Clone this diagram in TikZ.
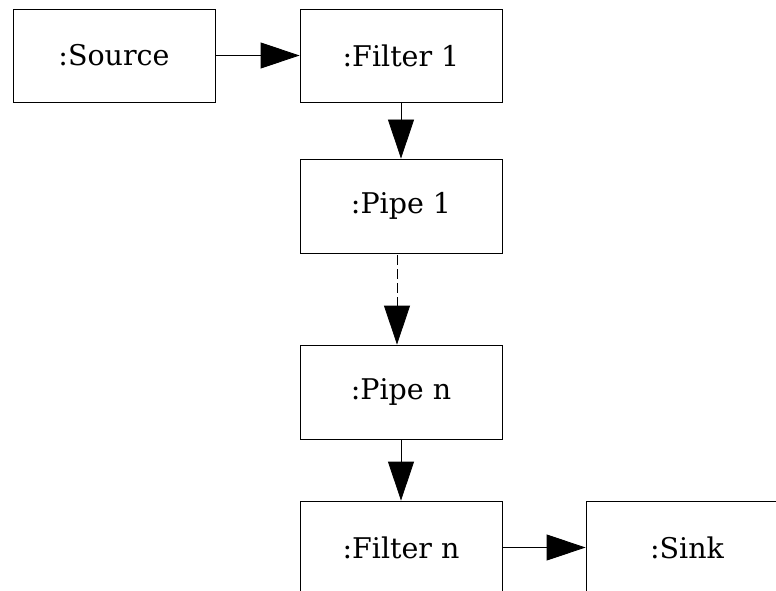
\documentclass[tikz,border=0pt]{standalone}
\usepackage{fontspec}
\setmainfont{DejaVu Serif}
\usetikzlibrary{arrows.meta}

\begin{document}
\begin{tikzpicture}[x=1pt,y=-1pt,line width=0.8pt]
\tikzset{obj/.style={draw,minimum width=202pt,minimum height=93pt,inner sep=0,font=\fontsize{28.5}{34}\selectfont},
flow/.style={-{Triangle[length=39pt,width=26pt]}}}
\useasboundingbox (0,0) rectangle (776,591);
\clip (0,0) rectangle (776,591);
\node (source) [obj] at (114,55.5) {:Source};
\node (filterone) [obj] at (401,55.5) {:Filter 1};
\node (pipeone) [obj,minimum height=94pt] at (401,206) {:Pipe 1};
\node (pipen) [obj,minimum height=94pt] at (401,392) {:Pipe n};
\node (filtern) [obj] at (401,547.5) {:Filter n};
\node (sink) [obj] at (687,547.5) {:Sink};
\draw[flow] (source) -- (filterone);
\draw[flow] (filterone) -- (pipeone);
\draw[flow,dash pattern=on 10pt off 4pt,dash phase=-2pt] ([xshift=-4pt]pipeone.south) -- ([xshift=-4pt]pipen.north);
\draw[flow] (pipen) -- (filtern);
\draw[flow] (filtern) -- (sink);
\end{tikzpicture}
\end{document}
